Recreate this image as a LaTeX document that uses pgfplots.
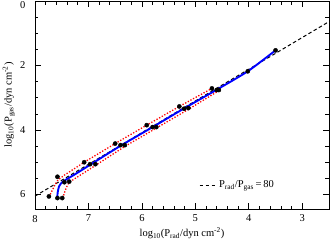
\documentclass[border=0pt]{standalone}
\usepackage{pgfplots}
\pgfplotsset{compat=1.18}
\usepackage{fontspec}
\setmainfont{Liberation Serif}
\begin{document}
\begin{tikzpicture}
\begin{axis}[
  scale only axis,
  width=294pt, height=208pt,
  x dir=reverse, y dir=reverse,
  xmin=2.5, xmax=8, ymin=0, ymax=6.45,
  xtick={3,4,5,6,7,8}, ytick={0,2,4,6},
  yticklabels={\raisebox{-4.5pt}[\height][\depth]{0},2,4,6},
  minor x tick num=4, minor y tick num=3,
  tick align=inside,
  major tick length=6pt, minor tick length=3.5pt,
  tick style={black, line width=0.7pt},
  axis line style={line width=0.8pt},
  /pgf/number format/assume math mode=true,
  tick label style={font=\fontsize{10.5}{12}\selectfont},
  xticklabel style={yshift=-2.5pt},
  yticklabel style={xshift=-6pt},
  label style={font=\fontsize{10.5}{12}\selectfont},
  xlabel={log\textsubscript{10}(P\textsubscript{rad}/dyn cm\textsuperscript{-2})},
  ylabel={log\textsubscript{10}(P\textsubscript{gas}/dyn cm\textsuperscript{-2})},
  xlabel style={yshift=1pt},
  ylabel style={yshift=-1.5pt},
  legend style={at={(0.83,0.115)}, anchor=east, draw=none, fill=none,
    font=\fontsize{10.5}{12}\selectfont},
  legend cell align=left,
]
\addplot[black, line width=1pt, dash pattern=on 3.5pt off 2.5pt] coordinates {(8,6.05) (2.5,0.64)};
\addlegendentry{P\textsubscript{rad}/P\textsubscript{gas}\,=\,80}
\addplot[red, line width=1.3pt, dash pattern=on 1.3pt off 1.7pt, forget plot] coordinates {
(7.74,6.08) (7.68,5.88) (7.62,5.68) (7.57,5.55) (7.45,5.40) (7.08,5.00) (6.50,4.42) (5.91,3.85) (5.30,3.27) (4.69,2.71)};
\addplot[red, line width=1.3pt, dash pattern=on 1.3pt off 1.7pt, forget plot] coordinates {
(7.48,6.12) (7.45,5.95) (7.41,5.77) (7.36,5.62) (6.87,5.10) (6.32,4.51) (5.73,3.94) (5.13,3.36) (4.56,2.78)};
\addplot[blue, line width=1.9pt, smooth, tension=0.4, forget plot] coordinates {
(7.585,6.12) (7.575,5.93) (7.55,5.75) (7.50,5.63) (7.44,5.56) (7.33,5.45) (7.18,5.30) (6.97,5.08) (6.40,4.49) (5.80,3.91) (5.21,3.33) (4.60,2.75) (4.02,2.18) (3.50,1.53)};
\addplot[only marks, mark=*, mark size=2.1pt, black, forget plot] coordinates {
(7.74,6.06) (7.58,6.11) (7.49,6.11)
(7.58,5.45) (7.45,5.62) (7.36,5.60)
(7.08,5.00) (6.97,5.06) (6.87,5.06)
(6.50,4.42) (6.40,4.47) (6.32,4.47)
(5.91,3.85) (5.80,3.91) (5.73,3.91)
(5.30,3.27) (5.21,3.34) (5.13,3.32)
(4.69,2.71) (4.60,2.76) (4.56,2.76)
(4.02,2.18) (3.50,1.53)};
\end{axis}
\pgfresetboundingbox
\path[use as bounding box] ([xshift=-35pt,yshift=-37pt]current axis.south west) rectangle ([xshift=1pt,yshift=1pt]current axis.north east);
\end{tikzpicture}
\end{document}
